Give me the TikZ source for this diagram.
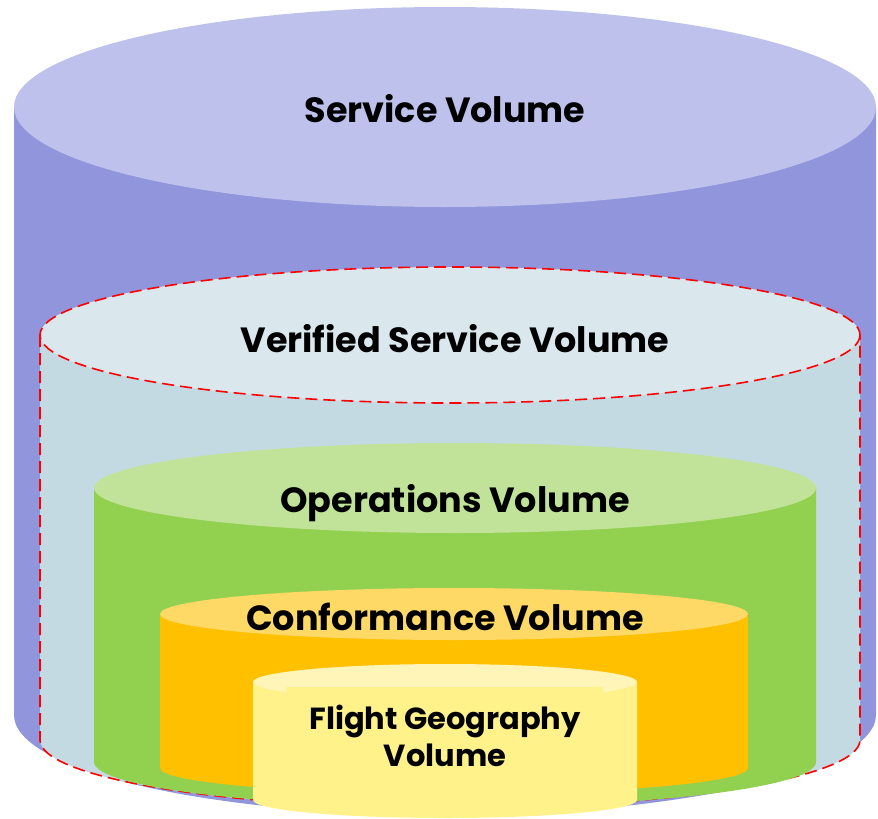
\documentclass[tikz,border=0pt]{standalone}
\usepackage{fontspec}
\setmainfont{Poppins}
\usepackage{tikz}

\definecolor{svTop}{HTML}{BEC1EC}
\definecolor{svBody}{HTML}{9196DC}
\definecolor{vsTop}{HTML}{DAE7EC}
\definecolor{vsBody}{HTML}{C3DAE2}
\definecolor{opTop}{HTML}{C0E399}
\definecolor{opBody}{HTML}{92D050}
\definecolor{cfTop}{HTML}{FFD966}
\definecolor{cfBody}{HTML}{FFC000}
\definecolor{fgTop}{HTML}{FFF5B9}
\definecolor{fgBody}{HTML}{FFF28B}

\begin{document}
\begin{tikzpicture}[
    x=1pt, y=-1pt,
    vlabel/.style={font=\bfseries\fontsize{35}{38}\selectfont, anchor=base, inner sep=0pt},
    verified/.style={draw=red, line width=1.6pt, dash pattern=on 12pt off 6pt}
  ]
  \useasboundingbox (0,0) rectangle (878,819);

  % --- Service Volume ---
  \fill[svBody] (14,107) -- (14,715) arc (180:0:431 and 100) -- (876,107) -- cycle;
  \fill[svTop] (445,107) ellipse (431 and 100);
  \node[vlabel] (sv) at (445,122) {Service Volume};

  % --- Verified Service Volume (dashed red outline) ---
  \fill[vsBody] (40,335) -- (40,740) arc (180:0:410 and 68) -- (860,335) -- cycle;
  \draw[verified] (40,335) -- (40,740) arc (180:0:410 and 68) -- (860,335);
  \fill[vsTop] (450,335) ellipse (410 and 68);
  \draw[verified] (450,335) ellipse (410 and 68);
  \node[vlabel] (vs) at (455,352) {Verified Service Volume};

  % --- Operations Volume ---
  \fill[opBody] (94,488) -- (94,762) arc (180:0:361 and 45) -- (816,488) -- cycle;
  \fill[opTop] (455,488) ellipse (361 and 45);
  \node[vlabel] (op) at (455,512) {Operations Volume};

  % --- Conformance Volume ---
  \fill[cfBody] (160,614) -- (160,768) arc (180:0:294 and 26) -- (748,614) -- cycle;
  \fill[cfTop] (454,614) ellipse (294 and 26);
  \node[vlabel] (cf) at (445,630) {Conformance Volume};

  % --- Flight Geography Volume ---
  \fill[fgBody] (253,682) -- (253,800) arc (180:0:192 and 18) -- (637,682) -- cycle;
  \fill[fgTop] (445,682) ellipse (192 and 18);
  \fill[fgBody] (286,687) rectangle (603,700);
  \node[vlabel, anchor=center, align=center, font=\bfseries\fontsize{30.5}{37}\selectfont]
    (fg) at (445,736) {Flight Geography\\Volume};
\end{tikzpicture}
\end{document}
